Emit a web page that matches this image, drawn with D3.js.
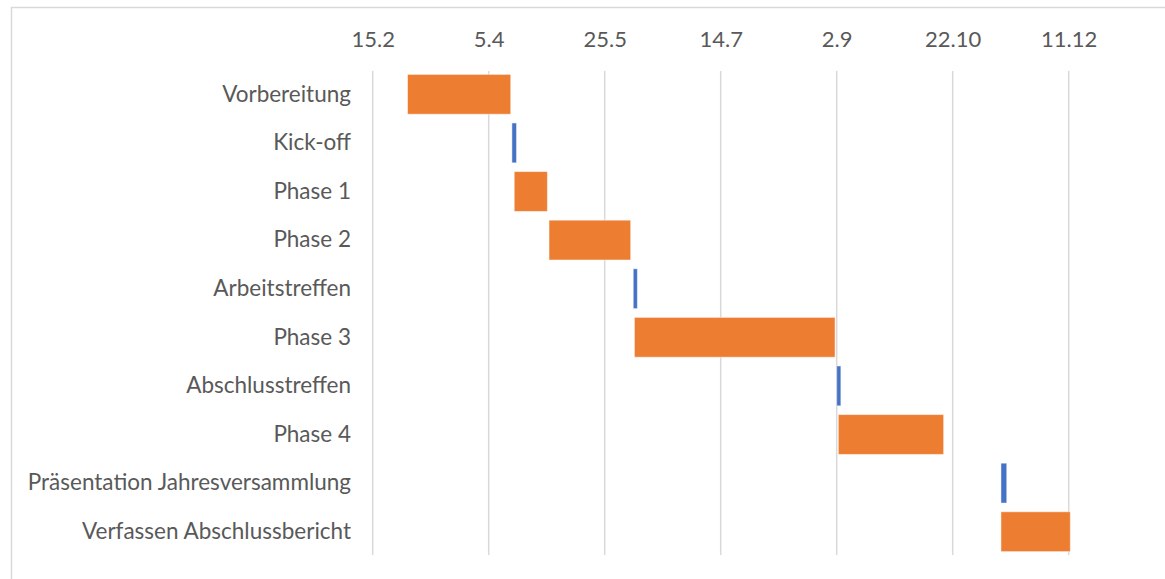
<!DOCTYPE html>
<html>
<head>
<meta charset="utf-8">
<script src="https://cdn.jsdelivr.net/npm/d3@7"></script>
<style>
  body { margin: 0; background: #fff; }
  svg { display: block; }
  text { font-family: Lato, "Open Sans", sans-serif; fill: #595959; }
</style>
</head>
<body>
<svg id="chart" width="1165" height="579"></svg>
<script>
"use strict";

// Tasks (top to bottom)
var tasks = ["Vorbereitung", "Kick-off", "Phase 1", "Phase 2", "Arbeitstreffen",
             "Phase 3", "Abschlusstreffen", "Phase 4",
             "Präsentation Jahresversammlung", "Verfassen Abschlussbericht"];
// start, in days after 15.2.2020
var startDays = [15, 60, 61, 76, 112.3, 112.8, 200, 200.7, 270.8, 270.8];
// duration in days
var durations = [44.5, 2, 14.3, 35.2, 1.8, 86.5, 1.8, 45.4, 2.5, 29.9];
// milestone or phase
var kinds = ["phase", "milestone", "phase", "phase", "milestone",
             "phase", "milestone", "phase", "milestone", "phase"];
// axis: a tick every 50 days from 15.2.
var tickDays = [0, 50, 100, 150, 200, 250, 300];

var base = new Date(2020, 1, 15);
var dayMs = 864e5;
var toDate = function(d) { return new Date(base.getTime() + d * dayMs); };

var data = tasks.map(function(t, i) {
  return { name: t, start: toDate(startDays[i]), end: toDate(startDays[i] + durations[i]), kind: kinds[i] };
});

var svg = d3.select("#chart");

// chart frame
svg.append("rect")
    .attr("x", 11.5).attr("y", 7.5)
    .attr("width", 1200).attr("height", 600)
    .attr("fill", "none")
    .attr("stroke", "#d9d9d9")
    .attr("stroke-width", 1.5);

var x = d3.scaleTime()
    .domain([base, toDate(330)])
    .range([372.7, 372.7 + 330 * 2.32]);

var y = d3.scaleBand()
    .domain(tasks)
    .range([70, 556])
    .paddingInner(0.18)
    .paddingOuter(0.09);

var fmt = d3.timeFormat("%-d.%-m");

// gridlines
svg.append("g")
  .selectAll("line")
  .data(tickDays)
  .join("line")
    .attr("x1", function(d) { return x(toDate(d)); })
    .attr("x2", function(d) { return x(toDate(d)); })
    .attr("y1", 71)
    .attr("y2", 555)
    .attr("stroke", "#d9d9d9")
    .attr("stroke-width", 1.5);

// top axis
var xAxis = d3.axisTop(x)
    .tickValues(tickDays.map(toDate))
    .tickFormat(fmt)
    .tickSize(0)
    .tickPadding(0);

var gx = svg.append("g")
    .attr("transform", "translate(0,47)")
    .call(xAxis);
gx.select(".domain").remove();
gx.selectAll("text")
    .attr("dy", 0)
    .style("font-size", "22px")
    .style("font-family", "Lato, sans-serif")
    .attr("fill", "#595959");

// category axis
var yAxis = d3.axisLeft(y).tickSize(0).tickPadding(0);
var gy = svg.append("g")
    .attr("transform", "translate(351,0)")
    .call(yAxis);
gy.select(".domain").remove();
gy.selectAll("text")
    .style("font-size", "22.5px")
    .style("font-family", "Lato, sans-serif")
    .attr("fill", "#595959");

// bars
svg.append("g")
  .selectAll("rect")
  .data(data)
  .join("rect")
    .attr("x", function(d) { return x(d.start); })
    .attr("y", function(d) { return y(d.name); })
    .attr("width", function(d) { return x(d.end) - x(d.start); })
    .attr("height", y.bandwidth())
    .attr("fill", function(d) { return d.kind === "phase" ? "#ed7d31" : "#4472c4"; })
    .attr("stroke", "#fff")
    .attr("stroke-opacity", 0.5)
    .attr("stroke-width", 1);
</script>
</body>
</html>
